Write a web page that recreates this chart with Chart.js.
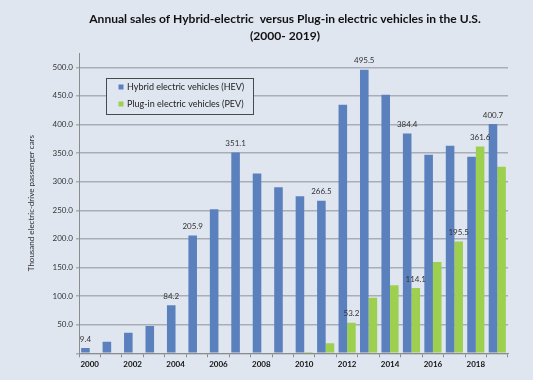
<!DOCTYPE html>
<html>
<head>
<meta charset="utf-8">
<script src="https://cdn.jsdelivr.net/npm/chart.js@4.4.1/dist/chart.umd.min.js"></script>
<style>
  html, body { margin: 0; padding: 0; background: #dfe6f0; }
  #wrap { width: 533px; height: 380px; }
</style>
</head>
<body>
<div id="wrap"><canvas id="myChart" width="533" height="380"></canvas></div>
<script>
// data (thousand units)
const years = ['2000','2001','2002','2003','2004','2005','2006','2007','2008','2009',
               '2010','2011','2012','2013','2014','2015','2016','2017','2018','2019'];
const hevSales = [9.4, 20.3, 36.1, 47.6, 84.2, 205.9, 251.9, 351.1, 314.5, 290.3,
                  274.5, 266.5, 434.6, 495.5, 452.2, 384.4, 346.9, 362.9, 343.7, 400.7];
const pevSales = [null, null, null, null, null, null, null, null, null, null,
                  0.3, 17.7, 53.2, 97.1, 118.8, 114.1, 159.8, 195.5, 361.6, 326.2];
const hevLabelled = [0, 4, 5, 7, 11, 13, 15, 19];
const pevLabelled = [12, 15, 17, 18];
const yTicks = [50, 100, 150, 200, 250, 300, 350, 400, 450, 500];

const titleLines = ['Annual sales of Hybrid-electric  versus Plug-in electric vehicles in the U.S.', '(2000- 2019)'];
const yTitle = 'Thousand electric-drive passenger cars';

const FONT = 'Lato, "Open Sans", sans-serif';

// background, title, legend box and value labels
const decor = {
  id: 'decor',
  beforeDraw(chart) {
    const c = chart.ctx;
    c.save();
    c.fillStyle = '#dfe6f0';
    c.fillRect(0, 0, chart.width, chart.height);
    c.restore();
  },
  afterDraw(chart) {
    const c = chart.ctx;
    c.save();
    // title
    c.fillStyle = '#111';
    c.textAlign = 'center';
    c.textBaseline = 'middle';
    c.font = 'bold 13px ' + FONT;
    let w = c.measureText(titleLines[0]).width;
    let size = 13 * 392 / w;
    c.font = 'bold ' + size.toFixed(2) + 'px ' + FONT;
    c.fillText(titleLines[0], 285, 19);
    c.fillText(titleLines[1], 285, 36);

    // legend
    c.strokeStyle = '#4a4a4a';
    c.lineWidth = 1;
    c.fillStyle = '#dfe6f0';
    c.fillRect(106.5, 78.5, 147, 36);
    c.strokeRect(106.5, 78.5, 147, 36);
    c.textAlign = 'left';
    c.font = '9px ' + FONT;
    chart.data.datasets.forEach((ds, i) => {
      const yy = 87 + i * 17;
      c.fillStyle = ds.backgroundColor;
      c.fillRect(118.5, yy - 2.5, 5, 5);
      c.fillStyle = '#222';
      c.fillText(ds.label, 127, yy);
    });

    // value labels
    c.font = '8px ' + FONT;
    c.fillStyle = '#333';
    c.textAlign = 'center';
    c.textBaseline = 'middle';
    [hevLabelled, pevLabelled].forEach((idxs, d) => {
      const meta = chart.getDatasetMeta(d);
      idxs.forEach(i => {
        const bar = meta.data[i];
        const v = chart.data.datasets[d].data[i];
        c.fillText(v.toFixed(1), bar.x, bar.y - 9);
      });
    });
    c.restore();
  }
};

const ctx = document.getElementById('myChart');

new Chart(ctx, {
  type: 'bar',
  data: {
    labels: years,
    datasets: [{
      label: 'Hybrid electric vehicles (HEV)',
      data: hevSales,
      backgroundColor: '#5b80be',
      borderWidth: 0
    }, {
      label: 'Plug-in electric vehicles (PEV)',
      data: pevSales,
      backgroundColor: '#9ed04f',
      borderWidth: 0
    }]
  },
  options: {
    responsive: false,
    animation: false,
    datasets: {
      bar: { categoryPercentage: 0.8, barPercentage: 1.0 }
    },
    layout: { padding: { top: 53, right: 25, left: 0, bottom: 0 } },
    plugins: {
      legend: { display: false },
      title: { display: false },
      tooltip: { enabled: false }
    },
    scales: {
      x: {
        grid: {
          offset: true,
          drawOnChartArea: false,
          drawTicks: true,
          tickLength: 4,
          color: '#8c8c8c'
        },
        border: { display: true, color: '#8c8c8c' },
        ticks: {
          autoSkip: false,
          maxRotation: 0,
          padding: 2,
          color: '#111',
          font: { family: FONT, size: 8, weight: 'bold' },
          callback: function (v, i) { return i % 2 === 0 ? years[i] : ''; }
        },
        afterFit(scale) { scale.height = 26.7; }
      },
      y: {
        min: 0,
        max: 525,
        afterBuildTicks(scale) {
          scale.ticks = [0].concat(yTicks).map(v => ({ value: v }));
        },
        grid: {
          color: '#a9aeb6',
          lineWidth: 1.5,
          drawTicks: true,
          tickLength: 3
        },
        border: { display: true, color: '#8c8c8c', width: 1 },
        ticks: {
          padding: 3,
          color: '#333',
          font: { family: FONT, size: 8 },
          callback: function (v) { return v === 0 ? '' : v.toFixed(1); }
        },
        title: {
          display: true,
          text: yTitle,
          color: '#333',
          font: { family: FONT, size: 8 },
          padding: { top: 27, bottom: 0 }
        },
        afterFit(scale) { scale.width = 79; }
      }
    }
  },
  plugins: [decor]
});
</script>
</body>
</html>
